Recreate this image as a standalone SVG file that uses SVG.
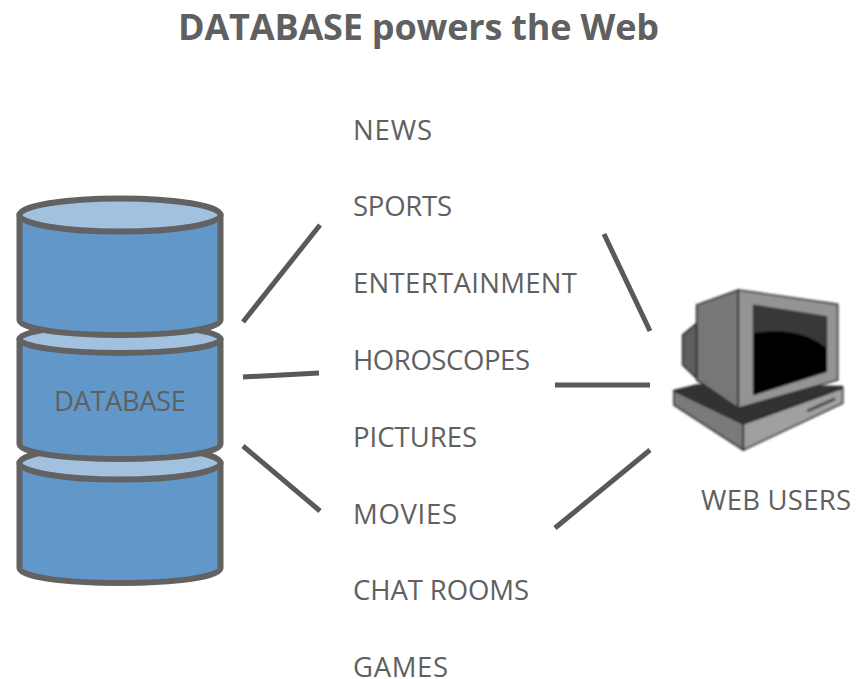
<svg xmlns="http://www.w3.org/2000/svg" width="863" height="679" viewBox="0 0 863 679">
<defs>
<style>
text{font-family:"Open Sans","Liberation Sans",sans-serif;fill:#606060;font-size:27.5px}
.title{font-weight:700;font-size:36px}
.body{fill:#6197c9;stroke:#626262;stroke-width:6;stroke-linejoin:round}
.top{fill:#a2c1df;stroke:#626262;stroke-width:6}
.conn{stroke:#595959;stroke-width:5;fill:none}
.mon{stroke:#2a2a2a;stroke-width:5;stroke-linejoin:round}
</style>
<filter id="soft" x="-5%" y="-5%" width="110%" height="110%"><feGaussianBlur stdDeviation="2.4"/></filter>
</defs>
<rect width="863" height="679" fill="#fff"/>
<text class="title" x="178" y="40" textLength="481" lengthAdjust="spacing">DATABASE powers the Web</text>
<g id="cylinder-3">
<path class="body" d="M19.5 463V568C19.500 577 64 583 120 583S220.500 577 220.500 568V463Z"/>
<ellipse class="top" cx="120" cy="463" rx="100.500" ry="16.500"/>
</g>
<g id="cylinder-2">
<path class="body" d="M19.5 339V444C19.500 453 64 459 120 459S220.500 453 220.500 444V339Z"/>
<ellipse class="top" cx="120" cy="339" rx="100.500" ry="14"/>
</g>
<g id="cylinder-1">
<path class="body" d="M19.5 215V320C19.500 329 64 335 120 335S220.500 329 220.500 320V215Z"/>
<ellipse class="top" cx="120" cy="215" rx="100.500" ry="16.500"/>
</g>
<g id="database-label"><text x="54" y="411" textLength="132">DATABASE</text></g>
<g id="topics">
<text x="353" y="140" textLength="79">NEWS</text>
<text x="353" y="216" textLength="99">SPORTS</text>
<text x="353" y="293" textLength="224">ENTERTAINMENT</text>
<text x="353" y="370" textLength="177">HOROSCOPES</text>
<text x="353" y="447" textLength="124">PICTURES</text>
<text x="353" y="524" textLength="104">MOVIES</text>
<text x="353" y="600" textLength="176">CHAT ROOMS</text>
<text x="353" y="677" textLength="95">GAMES</text>
</g>
<g id="connectors">
<line class="conn" x1="243" y1="322" x2="320" y2="225"/>
<line class="conn" x1="243" y1="377" x2="319" y2="373"/>
<line class="conn" x1="243" y1="446" x2="320" y2="511"/>
<line class="conn" x1="604" y1="234" x2="650" y2="331"/>
<line class="conn" x1="555" y1="385" x2="650" y2="385"/>
<line class="conn" x1="555" y1="528" x2="650" y2="450"/>
</g>
<g id="web-users">
<g transform="translate(660 270) scale(.33333)" filter="url(#soft)">
<polygon class="mon" fill="#5f5f5f" points="110,160 68,195 68,285 110,325"/>
<polygon class="mon" fill="#333" points="42,362 110,345 548,350 250,462"/>
<polygon class="mon" fill="#7a7a7a" points="42,362 250,462 250,540 42,405"/>
<polygon class="mon" fill="#a0a0a0" points="250,462 548,355 548,400 250,540"/>
<polygon class="mon" fill="#777" points="110,105 235,60 235,415 110,330"/>
<polygon class="mon" fill="#949494" points="235,60 533,103 533,330 235,415"/>
<polygon fill="#000" stroke="#222" stroke-width="3" points="280,105 500,140 500,305 280,375"/>
<path fill="#383838" d="M280 105L500 140V235C440 185 360 175 280 190Z"/>
<line x1="442" y1="423" x2="525" y2="386" stroke="#3a3a3a" stroke-width="8"/>
</g>
<text x="701" y="510" textLength="150">WEB USERS</text>
</g>
</svg>
